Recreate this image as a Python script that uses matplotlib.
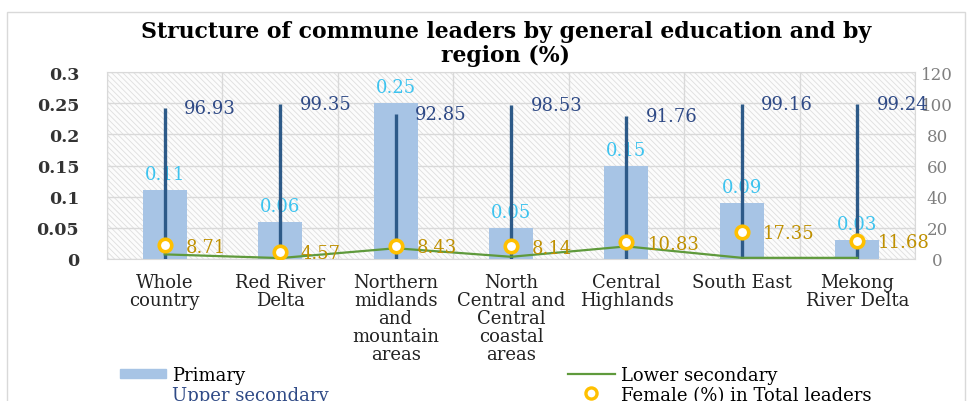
import matplotlib
matplotlib.use("Agg")
import matplotlib.pyplot as plt
import numpy as np
from matplotlib.lines import Line2D
from matplotlib.patches import Patch, Rectangle
from matplotlib.ticker import FormatStrFormatter, MultipleLocator

# data
categories = ["Whole\ncountry", "Red River\nDelta", "Northern\nmidlands\nand\nmountain\nareas",
              "North\nCentral and\nCentral\ncoastal\nareas", "Central\nHighlands", "South East",
              "Mekong\nRiver Delta"]
primary = [0.11, 0.06, 0.25, 0.05, 0.15, 0.09, 0.03]
lower_secondary = [2.96, 0.59, 6.90, 1.42, 8.09, 0.75, 0.73]
upper_secondary = [96.93, 99.35, 92.85, 98.53, 91.76, 99.16, 99.24]
female = [8.71, 4.57, 8.43, 8.14, 10.83, 17.35, 11.68]

BAR = "#a7c4e5"
UPPER = "#2d5a88"
GREEN = "#5f9a3c"
GOLD = "#ffc000"
GOLD_TXT = "#bf9000"
CYAN = "#3cc3ef"
NAVY = "#2f4a86"

plt.rcParams["font.family"] = ["DejaVu Serif"]
plt.rcParams["hatch.linewidth"] = 0.6

fig = plt.figure(figsize=(9.73, 4.02), dpi=100)
W, H = 973, 402

# outer chart frame
fig.patches.append(Rectangle((7 / W, -0.1), 958 / W, 1.1 - 13 / H, transform=fig.transFigure,
                             fill=False, edgecolor="#d9d9d9", linewidth=1))

ax = fig.add_axes([107 / W, 1 - 260 / H, 808 / W, 187 / H])
ax2 = ax.twinx()

# hatched plot area
ax.add_patch(Rectangle((0, 0), 1, 1, transform=ax.transAxes, facecolor="#fcfcfc",
                       edgecolor="#dedede", hatch="\\\\\\\\\\\\", linewidth=0, zorder=0))

x = np.arange(len(categories))
ax.bar(x, primary, width=0.38, color=BAR, zorder=2)
ax.set_xlim(-0.5, len(categories) - 0.5)
ax.set_ylim(0, 0.3)
ax.yaxis.set_major_locator(MultipleLocator(0.05))
ax.yaxis.set_major_formatter(FormatStrFormatter("%g"))
ax.set_xticks(np.arange(len(categories) + 1) - 0.5, minor=False)
ax.set_xticklabels([])
ax.set_xticks(x, minor=True)
ax.set_xticklabels(categories, minor=True, fontsize=13, color="#222222", linespacing=1.0,
                   va="top")
ax.tick_params(axis="x", which="both", length=0, pad=10)
ax.tick_params(axis="y", length=0, pad=20, labelsize=12.5, labelcolor="#333333")
for lbl in ax.get_yticklabels():
    lbl.set_fontweight("bold")
ax.grid(True, which="major", color="#d9d9d9", linewidth=1)
ax.set_axisbelow(True)
for s in ax.spines.values():
    s.set_color("#d9d9d9")

for xi, v in zip(x, primary):
    ax.annotate(f"{v:g}", (xi, v), xytext=(0, 11.5), textcoords="offset points",
                ha="center", va="center", fontsize=13, color=CYAN, zorder=5)

ax2.set_ylim(0, 120)
ax2.yaxis.set_major_locator(MultipleLocator(20))
ax2.tick_params(axis="y", length=0, pad=16, labelsize=12, labelcolor="#7f7f7f")
for lbl in ax2.get_yticklabels():
    lbl.set_horizontalalignment("center")
for s in ax2.spines.values():
    s.set_visible(False)

ax2.vlines(x, 0, upper_secondary, color=UPPER, linewidth=2.4, zorder=3)
ax2.plot(x, lower_secondary, color=GREEN, linewidth=1.6, zorder=3)
ax2.plot(x, female, linestyle="none", marker="o", markersize=9, markerfacecolor="white",
         markeredgecolor=GOLD, markeredgewidth=2.6, zorder=4)

for xi, v in zip(x, upper_secondary):
    ax2.annotate(f"{v:.2f}", (xi, v), xytext=(14, 0), textcoords="offset points",
                 ha="left", va="center", fontsize=13, color=NAVY)
for xi, v in zip(x, female):
    ax2.annotate(f"{v:.2f}", (xi, v), xytext=(15, -1), textcoords="offset points",
                 ha="left", va="center", fontsize=13, color=GOLD_TXT)

fig.text(0.52, 1 - 44 / H, "Structure of commune leaders by general education and by\nregion (%)",
         ha="center", va="center", fontsize=15.8, fontweight="bold", linespacing=1.15)

h1 = [Patch(color=BAR), Line2D([], [], linestyle="none")]
leg1 = fig.legend(h1, ["Primary", "Upper secondary"], loc="upper left",
                  bbox_to_anchor=(120 / W, 1 - 367 / H), frameon=False, fontsize=13,
                  handlelength=2.55, handleheight=0.45, handletextpad=0.35, labelspacing=0.1,
                  borderpad=0, borderaxespad=0)
leg1.get_texts()[1].set_color(NAVY)

h2 = [Line2D([], [], color=GREEN, linewidth=1.6),
      Line2D([], [], linestyle="none", marker="o", markersize=8, markerfacecolor="white",
             markeredgecolor=GOLD, markeredgewidth=2.4)]
fig.legend(h2, ["Lower secondary", "Female (%) in Total leaders"], loc="upper left",
           bbox_to_anchor=(568 / W, 1 - 367 / H), frameon=False, fontsize=13,
           handlelength=2.6, handletextpad=0.35, labelspacing=0.1, borderpad=0, borderaxespad=0)

fig.savefig("out.png", dpi=100)
